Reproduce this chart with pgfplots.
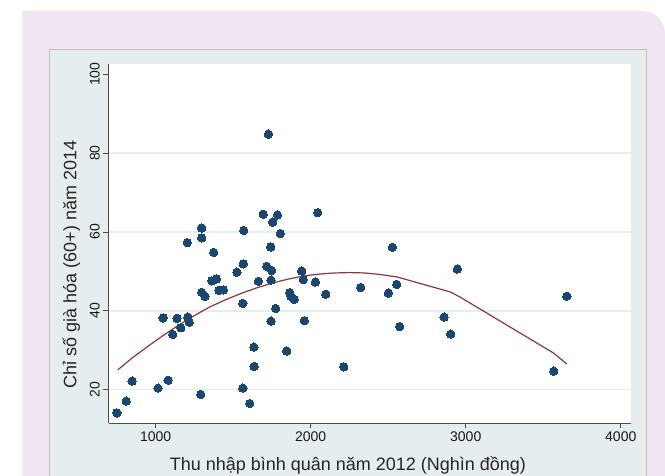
\documentclass[border=0pt]{standalone}
\usepackage{fontspec}
\setmainfont{Liberation Sans}
\usepackage{pgfplots}
\pgfplotsset{compat=1.18}
\definecolor{pinkbg}{RGB}{243,230,243}
\definecolor{panelbg}{RGB}{229,237,239}
\definecolor{gridc}{RGB}{229,237,239}
\definecolor{navy}{RGB}{26,71,111}
\definecolor{maroon}{RGB}{144,53,59}

\pgfplotstableread{
x y
750 14.1
810 17.1
848 22.2
1015 20.4
1048 38.2
1080 22.4
1110 34.0
1138 38.1
1162 35.7
1207 38.4
1217 37.1
1204 57.3
1297 61.0
1297 58.5
1374 54.8
1291 18.8
1297 44.7
1318 43.7
1362 47.6
1392 48.1
1408 45.2
1437 45.3
1524 49.8
1565 51.9
1568 60.4
1562 41.9
1562 20.4
1607 16.5
1634 30.8
1635 25.9
1663 47.5
1694 64.5
1727 84.8
1716 51.3
1748 50.2
1744 47.8
1742 56.2
1755 62.5
1785 64.3
1804 59.6
1774 40.6
1744 37.4
1845 29.8
1865 44.6
1873 43.7
1894 42.9
1942 50.1
1952 47.9
1959 37.5
2030 47.3
2045 64.9
2097 44.2
2213 25.8
2323 45.9
2501 44.5
2527 56.1
2555 46.7
2574 36.0
2860 38.4
2903 34.1
2946 50.6
3568 24.7
3652 43.7
}\points

\pgfplotstableread{
x y
755 25.0
850 28.1
950 31.0
1050 33.8
1150 36.4
1250 38.8
1350 41.0
1450 42.8
1550 44.4
1650 45.8
1750 47.0
1850 48.0
1950 48.8
2050 49.3
2150 49.6
2250 49.7
2350 49.6
2450 49.2
2555 48.6
2700 47.0
2899 44.8
2963 43.5
3566 29.3
3652 26.5
}\fit

\begin{document}
\begin{tikzpicture}
\useasboundingbox (0pt,0pt) rectangle (665pt,476pt);
\fill[pinkbg] (22pt,0pt) -- (22pt,465pt) -- (643pt,465pt)
  arc[start angle=90,end angle=0,radius=22pt] -- (665pt,0pt) -- cycle;
\fill[panelbg] (49.5pt,0pt) rectangle (646pt,426.7pt);
\draw[black!25, line width=0.6pt] (49.5pt,0pt) |- (646pt,426.7pt) -- (646pt,0pt);
\begin{axis}[
    at={(108.7pt,53pt)}, anchor=south west, scale only axis,
    width=522.3pt, height=359pt,
    xmin=697, xmax=4066, ymin=11.55, ymax=102.6,
    axis x line*=bottom, axis y line*=left,
    axis line style={black!70, line width=0.8pt},
    axis background/.style={fill=white},
    xtick={1000,2000,3000,4000},
    ytick={20,40,60,80,100},
    extra y ticks={20,40,60,80},
    extra y tick labels={},
    extra y tick style={ymajorgrids=true, major tick length=0pt},
    grid style={gridc, line width=1.5pt},
    tick align=outside,
    major tick length=5.5pt,
    tick style={black!70, line width=0.8pt},
    /pgf/number format/1000 sep={},
    /pgf/number format/assume math mode=true,
    ticklabel style={font=\fontsize{14}{16}\selectfont, text=black!90},
    yticklabel style={rotate=90, anchor=south},
    xlabel={Thu nhập bình quân năm 2012 (Nghìn đồng)},
    ylabel={Chỉ số già hóa (60+) năm 2014},
    xlabel style={at={(axis description cs:0.458,-0.131)}, anchor=base,
      font=\fontsize{18}{20}\selectfont, text=black!85},
    ylabel style={at={(axis description cs:-0.0617,0.4415)}, anchor=base,
      font=\fontsize{18}{20}\selectfont, text=black!85},
]
\addplot[navy, only marks, mark=*, mark size=4.2pt, mark options={draw=navy, fill=navy, line width=0pt}]
  table {\points};
\addplot[maroon, line width=1.2pt, no marks] table {\fit};
\end{axis}
\end{tikzpicture}
\end{document}
